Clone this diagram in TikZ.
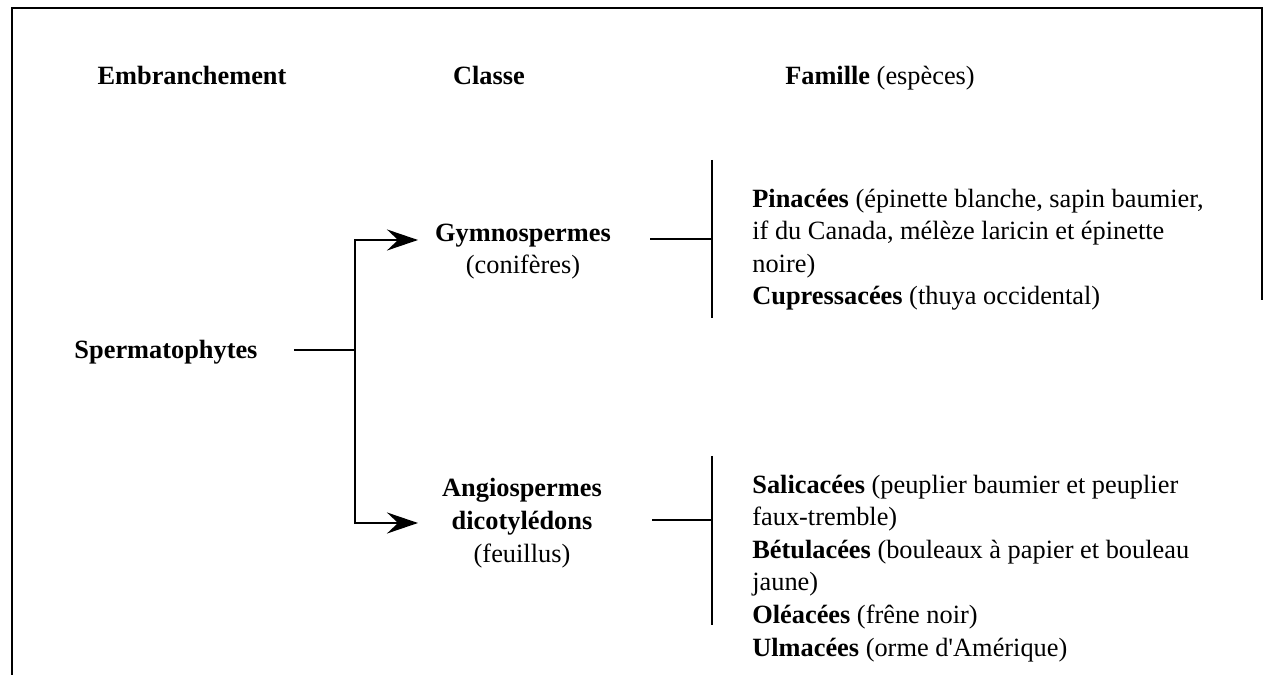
\documentclass[tikz,border=0pt]{standalone}
\usepackage{fontspec}
\setmainfont{Liberation Serif}[Ligatures=TeXOff]
\usetikzlibrary{arrows.meta}

\begin{document}
\begin{tikzpicture}[x=0.02cm,y=-0.02cm,font=\fontsize{15}{18.5}\selectfont,
  lbl/.style={inner sep=0pt,anchor=base},
  fams/.style={inner sep=0pt,anchor=base west,align=left},
  ln/.style={line width=1.6pt},
  arr/.style={ln,-{Stealth[length=0.62cm,width=0.42cm,inset=0.22cm]}}]
\useasboundingbox (0,0) rectangle (1265,675);
\draw[line width=1.1pt] (12,675) -- (12,8) -- (1262,8) -- (1262,300);
\node[lbl] (emb) at (192,85) {\textbf{Embranchement}};
\node[lbl] (cls) at (489,85) {\textbf{Classe}};
\node[lbl] (fam) at (880,85) {\textbf{Famille} (espèces)};
\node[lbl] (sperm) at (166,359) {\textbf{Spermatophytes}};
\node[lbl,align=center] (gym) at (523,274) {\textbf{Gymnospermes}\\(conifères)};
\node[lbl,align=center] (ang) at (522,562) {\textbf{Angiospermes}\\\textbf{dicotylédons}\\(feuillus)};
\node[fams] (pin) at (752,305) {\textbf{Pinacées} (épinette blanche, sapin baumier,\\if du Canada, mélèze laricin et épinette\\noire)\\\textbf{Cupressacées} (thuya occidental)};
\node[fams] (sal) at (752,656) {\textbf{Salicacées} (peuplier baumier et peuplier\\faux-tremble)\\\textbf{Bétulacées} (bouleaux à papier et bouleau\\jaune)\\\textbf{Oléacées} (frêne noir)\\\textbf{Ulmacées} (orme d'Amérique)};
\coordinate (fork) at (355,350);
\coordinate (gtip) at (418,240);
\coordinate (atip) at (418,523);
\coordinate (gout) at (650,239);
\coordinate (gbar) at (712,239);
\coordinate (aout) at (652,520);
\coordinate (abar) at (712,520);
\draw[ln] ([xshift=0.72cm]sperm.east |- fork) -- (fork);
\draw[arr] (fork) |- (gtip);
\draw[arr] (fork) |- (atip);
\draw[ln] (gout) -- (gbar);
\draw[ln] (gbar |- 0,160) -- (gbar |- 0,318);
\draw[ln] (aout) -- (abar);
\draw[ln] (abar |- 0,456) -- (abar |- 0,625);
\end{tikzpicture}
\end{document}
